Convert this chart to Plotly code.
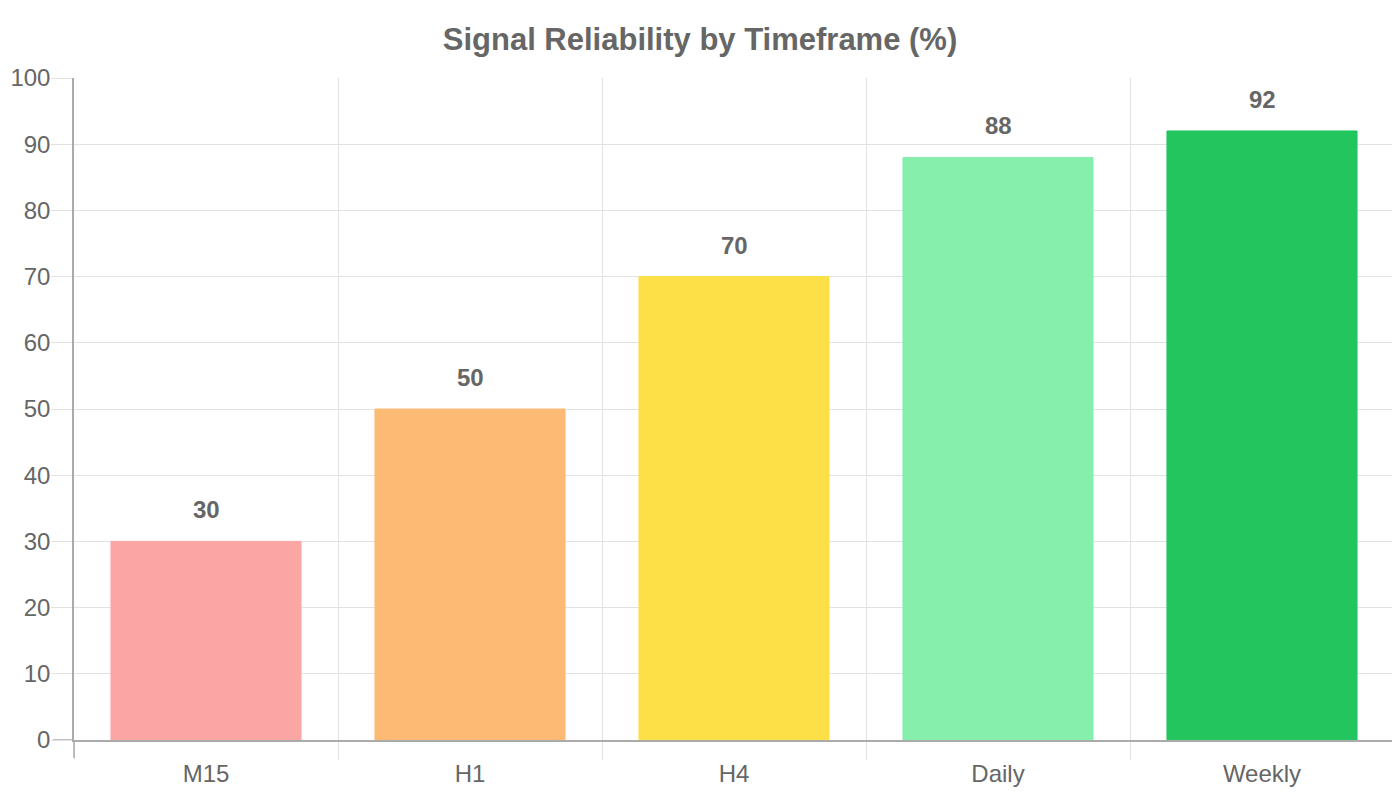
import plotly.graph_objects as go

categories = ["M15", "H1", "H4", "Daily", "Weekly"]
reliability = [30, 50, 70, 88, 92]
bar_colors = ["#fca5a5", "#fdba74", "#fde047", "#86efac", "#22c55e"]
y_ticks = [0, 10, 20, 30, 40, 50, 60, 70, 80, 90, 100]

FONT = "Liberation Sans, Arial, Helvetica, sans-serif"
TXT = "#666666"
GRID = "#e2e2e2"
AXIS = "#aaaaaa"

fig = go.Figure()
fig.add_trace(go.Bar(
    x=categories,
    y=reliability,
    marker=dict(color=bar_colors, line=dict(color=bar_colors, width=1)),
    hoverinfo="x+y",
    showlegend=False,
))

for c, v in zip(categories, reliability):
    fig.add_annotation(
        x=c, y=v, text=str(v), showarrow=False,
        yanchor="bottom", yshift=16,
        font=dict(family=FONT, size=24, color=TXT, weight=700),
    )

# darker tick at zero (y) and at left boundary (x)
fig.add_shape(type="line", xref="paper", yref="y", xsizemode="pixel", xanchor=0,
              x0=-21, x1=0, y0=0, y1=0, line=dict(color=AXIS, width=1.5))
fig.add_shape(type="line", xref="paper", yref="paper", ysizemode="pixel", yanchor=0,
              x0=0, x1=0, y0=-18, y1=0, line=dict(color=AXIS, width=1.5))

# page body has an 8px margin, so offsets are compensated
fig.update_layout(
    width=1400, height=800,
    margin=dict(l=66, r=14, t=70, b=68, autoexpand=False),
    paper_bgcolor="white", plot_bgcolor="white",
    bargap=0.28,
    title=dict(text="Signal Reliability by Timeframe (%)", x=(700 - 8) / 1400, xanchor="center",
               y=1 - 31 / 800, yanchor="middle",
               font=dict(family=FONT, size=31, color=TXT, weight=700)),
    font=dict(family=FONT, color=TXT),
)

fig.update_xaxes(
    type="category",
    tickson="boundaries",
    showgrid=True, gridcolor=GRID, gridwidth=1,
    ticks="outside", ticklen=18, tickcolor=GRID, tickwidth=1,
    showline=True, linecolor=AXIS, linewidth=1.5,
    tickfont=dict(family=FONT, size=24, color=TXT),
    ticklabelstandoff=11,
    automargin=False,
    fixedrange=True,
)
fig.update_yaxes(
    range=[0, 100],
    tickvals=y_ticks,
    showgrid=True, gridcolor=GRID, gridwidth=1,
    ticks="outside", ticklen=21, tickcolor=GRID, tickwidth=1,
    showline=True, linecolor=AXIS, linewidth=1.5,
    zeroline=False,
    tickfont=dict(family=FONT, size=24, color=TXT),
    ticklabelstandoff=-4,
    automargin=False,
    fixedrange=True,
)

fig.write_html("out.html")
